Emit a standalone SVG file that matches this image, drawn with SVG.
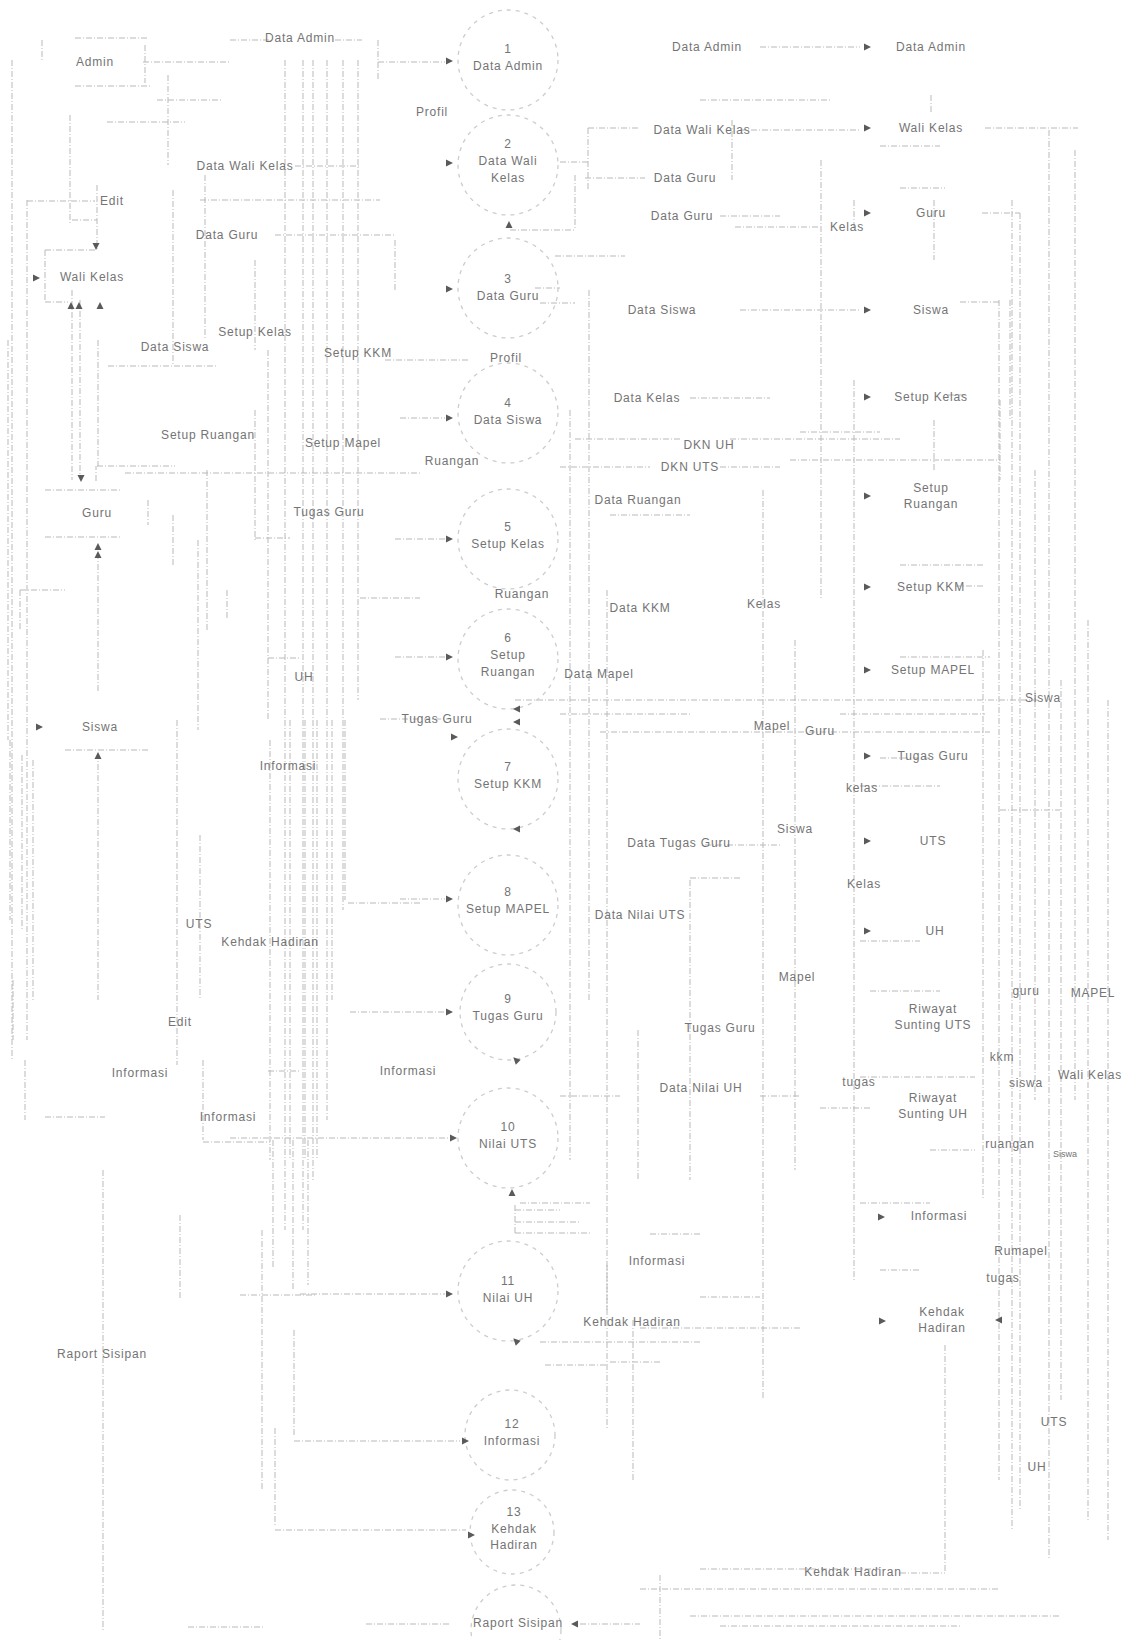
<svg xmlns="http://www.w3.org/2000/svg" width="1121" height="1640" viewBox="0 0 1121 1640">
<style>
text{font-family:"Liberation Sans",Arial,sans-serif;font-size:12px;letter-spacing:0.8px;fill:#747474}
.m{text-anchor:middle}
.c{fill:none;stroke:#b9b9b9;stroke-width:1;stroke-dasharray:6 2 1 2}
.s{fill:none;stroke:#a9a9a9;stroke-width:1.1}
.pc{fill:none;stroke:#cdcdcd;stroke-width:1.3;stroke-dasharray:4 5}
.a{fill:#5a5a5a}
</style>
<defs>
<path id="ar" d="M-6,-3.5 L1,0 L-6,3.5 z"/>
</defs>
<rect width="1121" height="1640" fill="#ffffff"/>

<g id="connectors">
<path class="c" d="M12 60V1060M27 200V1040M42 40V62M70 115V225M97 185V249M168 75V165M173 190V365M205 175V340M255 260V350M285 60V1230M303 60V1230M313 60V1180M327 60V1120M343 60V910M358 60V700M395 240V290M378 40V80"/>
<path class="c" d="M72 290V480M80 300V478M98 340V466M148 500V525M173 515V565M198 540V730M207 470V630M227 590V620M255 410V540M268 350V720M20 590V630M98 553V692M8 340V740"/>
<path class="c" d="M98 753V1000M33 760V1000M22 755V930M10 740V920M177 720V1065M200 835V1000M270 740V1160M290 720V1160M305 720V1160M317 720V1160M332 720V1000M345 720V900M13 980V1040M25 1060V1120M203 1060V1140"/>
<path class="c" d="M103 1170V1630M180 1215V1300M273 1140V1268M293 1140V1290M308 1140V1285M294 1330V1435M275 1428V1525M262 1230V1490"/>
<path class="c" d="M75 38H148M75 86H150M143 62H230M157 100H223M107 122H185M230 40H270M335 40H362M378 62H445M295 166H360M27 201H95M72 220H97M200 200H380M275 235H395M385 360H470M45 250H95M45 302H68"/>
<path class="c" d="M108 366H218M97 466H175M125 473H420M45 490H122M45 537H120M255 538H290M360 598H420M268 658H300M20 590H65M65 750H150M348 903H420M45 1117H105M203 1142H270M268 1071H300M240 1295H315M294 1441H460M275 1530H466M188 1627H265M366 1624H450M400 418H445M395 539H445M395 657H445M380 719H449M400 899H445M350 1012H445M230 1138H448M300 1294H445"/>
<path class="c" d="M45 250V302M145 45V83M96 481V466"/>
<path class="c" d="M760 47H860M700 100H830M588 128H640M740 130H860M985 128H1078M880 146H940M585 178H645M900 188H945M720 216H780M735 227H820M982 213H1020M555 256H625M535 288H560M540 303H575M740 310H860M960 302H1000M948 395H965M690 398H770M800 432H880M575 439H680M730 439H900M790 460H1000M560 467H650M720 467H780M610 515H690M900 565H985M955 586H985M900 657H990M515 700H1040M560 714H690M840 714H985M600 732H990M880 758H930M860 786H940M1000 810H1060M705 845H780M690 878H740M860 941H920M870 991H940M860 1077H975M560 1096H620M760 1096H800M820 1108H870M930 1150H975M520 1203H590M860 1203H930M650 1234H700M880 1270H920M700 1297H760M640 1328H800M540 1342H700M610 1362H660M700 1569H880M900 1573H945M640 1589H1000M690 1616H1060M580 1624H640M720 1626H960M515 1210H560M515 1222H580M515 1233H590"/>
<path class="c" d="M588 128V190M560 162H588M575 175V230M510 230H575M570 410V1160M589 290V1000M607 590V1310M638 1030V1180M690 880V1180M732 120V180M763 490V1400M795 640V1170M821 160V600M854 200V230M854 380V1280M931 95V112M934 200V260M934 420V470M983 650V1200M999 300V1480M1012 200V1530M1020 213V1510M1035 470V1100M1049 130V1560M1061 680V1400M1075 150V1100M1088 620V1520M1108 700V1540M945 1345V1572M660 1575V1640M515 1205V1235M607 1265V1430M633 1320V1480M545 1365H607M1000 400V480M1010 300V420"/>
</g>

<g id="flow-labels">
<text class="m" x="300" y="42">Data Admin</text>
<text class="m" x="707" y="51">Data Admin</text>
<text class="m" x="432" y="116">Profil</text>
<text class="m" x="702" y="134">Data Wali Kelas</text>
<text class="m" x="245" y="170">Data Wali Kelas</text>
<text class="m" x="112" y="205">Edit</text>
<text class="m" x="685" y="182">Data Guru</text>
<text class="m" x="682" y="220">Data Guru</text>
<text class="m" x="847" y="231">Kelas</text>
<text class="m" x="227" y="239">Data Guru</text>
<text class="m" x="662" y="314">Data Siswa</text>
<text class="m" x="255" y="336">Setup Kelas</text>
<text class="m" x="175" y="351">Data Siswa</text>
<text class="m" x="358" y="357">Setup KKM</text>
<text class="m" x="506" y="362">Profil</text>
<text class="m" x="647" y="402">Data Kelas</text>
<text class="m" x="208" y="439">Setup Ruangan</text>
<text class="m" x="343" y="447">Setup Mapel</text>
<text class="m" x="709" y="449">DKN UH</text>
<text class="m" x="452" y="465">Ruangan</text>
<text class="m" x="690" y="471">DKN UTS</text>
<text class="m" x="638" y="504">Data Ruangan</text>
<text class="m" x="329" y="516">Tugas Guru</text>
<text class="m" x="522" y="598">Ruangan</text>
<text class="m" x="640" y="612">Data KKM</text>
<text class="m" x="764" y="608">Kelas</text>
<text class="m" x="304" y="681">UH</text>
<text class="m" x="599" y="678">Data Mapel</text>
<text class="m" x="1043" y="702">Siswa</text>
<text class="m" x="437" y="723">Tugas Guru</text>
<text class="m" x="772" y="730">Mapel</text>
<text class="m" x="820" y="735">Guru</text>
<text class="m" x="288" y="770">Informasi</text>
<text class="m" x="862" y="792">kelas</text>
<text class="m" x="795" y="833">Siswa</text>
<text class="m" x="679" y="847">Data Tugas Guru</text>
<text class="m" x="864" y="888">Kelas</text>
<text class="m" x="199" y="928">UTS</text>
<text class="m" x="640" y="919">Data Nilai UTS</text>
<text class="m" x="270" y="946">Kehdak Hadiran</text>
<text class="m" x="797" y="981">Mapel</text>
<text class="m" x="1026" y="995">guru</text>
<text class="m" x="1093" y="997">MAPEL</text>
<text class="m" x="180" y="1026">Edit</text>
<text class="m" x="720" y="1032">Tugas Guru</text>
<text class="m" x="140" y="1077">Informasi</text>
<text class="m" x="408" y="1075">Informasi</text>
<text class="m" x="1002" y="1061">kkm</text>
<text class="m" x="701" y="1092">Data Nilai UH</text>
<text class="m" x="859" y="1086">tugas</text>
<text class="m" x="1026" y="1087">siswa</text>
<text class="m" x="1090" y="1079">Wali Kelas</text>
<text class="m" x="228" y="1121">Informasi</text>
<text class="m" x="1010" y="1148">ruangan</text>
<text class="m" x="1065" y="1157" style="font-size:9px;letter-spacing:0">Siswa</text>
<text class="m" x="1021" y="1255">Rumapel</text>
<text class="m" x="1003" y="1282">tugas</text>
<text class="m" x="657" y="1265">Informasi</text>
<text class="m" x="632" y="1326">Kehdak Hadiran</text>
<text class="m" x="102" y="1358">Raport Sisipan</text>
<text class="m" x="1054" y="1426">UTS</text>
<text class="m" x="1037" y="1471">UH</text>
<text class="m" x="853" y="1576">Kehdak Hadiran</text>
</g>

<g id="admin"><text class="m" x="95" y="66">Admin</text></g>
<g id="wali-kelas"><text class="m" x="92" y="281">Wali Kelas</text>
<use href="#ar" class="a" transform="translate(39,278)"/>
<use href="#ar" class="a" transform="translate(71,303) rotate(-90)"/>
<use href="#ar" class="a" transform="translate(79,303) rotate(-90)"/>
<use href="#ar" class="a" transform="translate(100,303) rotate(-90)"/>
<use href="#ar" class="a" transform="translate(96,249) rotate(90)"/>
</g>
<g id="guru"><text class="m" x="97" y="517">Guru</text>
<use href="#ar" class="a" transform="translate(81,481) rotate(90)"/>
<use href="#ar" class="a" transform="translate(98,544) rotate(-90)"/>
<use href="#ar" class="a" transform="translate(98,552) rotate(-90)"/>
</g>
<g id="siswa"><text class="m" x="100" y="731">Siswa</text>
<use href="#ar" class="a" transform="translate(42,727)"/>
<use href="#ar" class="a" transform="translate(98,753) rotate(-90)"/>
</g>

<g id="p1"><circle class="pc" cx="508" cy="60" r="50"/><text class="m" x="508" y="53">1</text><text class="m" x="508" y="70">Data Admin</text><use href="#ar" class="a" transform="translate(452,61)"/></g>
<g id="p2"><circle class="pc" cx="508" cy="165" r="50"/><text class="m" x="508" y="148">2</text><text class="m" x="508" y="165">Data Wali</text><text class="m" x="508" y="182">Kelas</text><use href="#ar" class="a" transform="translate(452,163)"/><use href="#ar" class="a" transform="translate(509,222) rotate(-90)"/></g>
<g id="p3"><circle class="pc" cx="508" cy="288" r="50"/><text class="m" x="508" y="283">3</text><text class="m" x="508" y="300">Data Guru</text><use href="#ar" class="a" transform="translate(452,289)"/></g>
<g id="p4"><circle class="pc" cx="508" cy="413" r="50"/><text class="m" x="508" y="407">4</text><text class="m" x="508" y="424">Data Siswa</text><use href="#ar" class="a" transform="translate(452,418)"/></g>
<g id="p5"><circle class="pc" cx="508" cy="539" r="50"/><text class="m" x="508" y="531">5</text><text class="m" x="508" y="548">Setup Kelas</text><use href="#ar" class="a" transform="translate(452,539)"/></g>
<g id="p6"><circle class="pc" cx="508" cy="659" r="50"/><text class="m" x="508" y="642">6</text><text class="m" x="508" y="659">Setup</text><text class="m" x="508" y="676">Ruangan</text><use href="#ar" class="a" transform="translate(452,657)"/><use href="#ar" class="a" transform="translate(514,709) rotate(180)"/><use href="#ar" class="a" transform="translate(514,722) rotate(180)"/></g>
<g id="p7"><circle class="pc" cx="508" cy="779" r="50"/><text class="m" x="508" y="771">7</text><text class="m" x="508" y="788">Setup KKM</text><use href="#ar" class="a" transform="translate(457,737)"/><use href="#ar" class="a" transform="translate(514,829) rotate(180)"/></g>
<g id="p8"><circle class="pc" cx="508" cy="905" r="50"/><text class="m" x="508" y="896">8</text><text class="m" x="508" y="913">Setup MAPEL</text><use href="#ar" class="a" transform="translate(452,899)"/></g>
<g id="p9"><circle class="pc" cx="508" cy="1012" r="48"/><text class="m" x="508" y="1003">9</text><text class="m" x="508" y="1020">Tugas Guru</text><use href="#ar" class="a" transform="translate(452,1012)"/><use href="#ar" class="a" transform="translate(514,1058) rotate(-135)"/></g>
<g id="p10"><circle class="pc" cx="508" cy="1138" r="50"/><text class="m" x="508" y="1131">10</text><text class="m" x="508" y="1148">Nilai UTS</text><use href="#ar" class="a" transform="translate(456,1138)"/><use href="#ar" class="a" transform="translate(512,1190) rotate(-90)"/></g>
<g id="p11"><circle class="pc" cx="508" cy="1291" r="50"/><text class="m" x="508" y="1285">11</text><text class="m" x="508" y="1302">Nilai UH</text><use href="#ar" class="a" transform="translate(452,1294)"/><use href="#ar" class="a" transform="translate(514,1339) rotate(-135)"/></g>
<g id="p12"><circle class="pc" cx="510" cy="1435" r="45"/><text class="m" x="512" y="1428">12</text><text class="m" x="512" y="1445">Informasi</text><use href="#ar" class="a" transform="translate(468,1441)"/></g>
<g id="p13"><circle class="pc" cx="512" cy="1532" r="42"/><text class="m" x="514" y="1516">13</text><text class="m" x="514" y="1533">Kehdak</text><text class="m" x="514" y="1549">Hadiran</text><use href="#ar" class="a" transform="translate(474,1535)"/></g>
<g id="raport"><circle class="pc" cx="516" cy="1630" r="45"/><text class="m" x="518" y="1627">Raport Sisipan</text><use href="#ar" class="a" transform="translate(572,1624) rotate(180)"/></g>

<g id="ds-data-admin"><use href="#ar" class="a" transform="translate(870,47)"/><text class="m" x="931" y="51">Data Admin</text></g>
<g id="ds-wali-kelas"><use href="#ar" class="a" transform="translate(870,128)"/><text class="m" x="931" y="132">Wali Kelas</text></g>
<g id="ds-guru"><use href="#ar" class="a" transform="translate(870,213)"/><text class="m" x="931" y="217">Guru</text></g>
<g id="ds-siswa"><use href="#ar" class="a" transform="translate(870,310)"/><text class="m" x="931" y="314">Siswa</text></g>
<g id="ds-setup-kelas"><use href="#ar" class="a" transform="translate(870,397)"/><text class="m" x="931" y="401">Setup Kelas</text></g>
<g id="ds-setup-ruangan"><use href="#ar" class="a" transform="translate(870,496)"/><text class="m" x="931" y="492">Setup</text><text class="m" x="931" y="508">Ruangan</text></g>
<g id="ds-setup-kkm"><use href="#ar" class="a" transform="translate(870,587)"/><text class="m" x="931" y="591">Setup KKM</text></g>
<g id="ds-setup-mapel"><use href="#ar" class="a" transform="translate(870,670)"/><text class="m" x="933" y="674">Setup MAPEL</text></g>
<g id="ds-tugas-guru"><use href="#ar" class="a" transform="translate(870,756)"/><text class="m" x="933" y="760">Tugas Guru</text></g>
<g id="ds-uts"><use href="#ar" class="a" transform="translate(870,841)"/><text class="m" x="933" y="845">UTS</text></g>
<g id="ds-uh"><use href="#ar" class="a" transform="translate(870,931)"/><text class="m" x="935" y="935">UH</text></g>
<g id="ds-riwayat-uts"><text class="m" x="933" y="1013">Riwayat</text><text class="m" x="933" y="1029">Sunting UTS</text></g>
<g id="ds-riwayat-uh"><text class="m" x="933" y="1102">Riwayat</text><text class="m" x="933" y="1118">Sunting UH</text></g>
<g id="ds-informasi"><use href="#ar" class="a" transform="translate(884,1217)"/><text class="m" x="939" y="1220">Informasi</text></g>
<g id="ds-kehdak-hadiran"><use href="#ar" class="a" transform="translate(885,1321)"/><text class="m" x="942" y="1316">Kehdak</text><text class="m" x="942" y="1332">Hadiran</text><use href="#ar" class="a" transform="translate(996,1320) rotate(180)"/></g>
</svg>
